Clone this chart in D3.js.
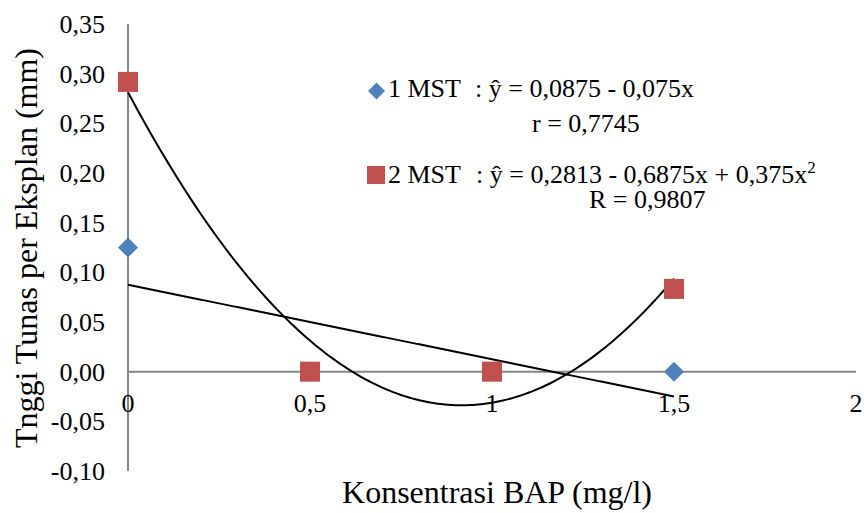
<!DOCTYPE html>
<html><head><meta charset="utf-8">
<script src="https://cdn.jsdelivr.net/npm/d3@7"></script>
<style>body{margin:0;background:#fff}svg{display:block}</style>
</head><body><svg id="c" width="864" height="513" font-family="'Liberation Serif', 'Times New Roman', Tinos, 'DejaVu Serif', serif"></svg>
<script>
const xValues = [0, 0.5, 1, 1.5];
const mst1 = [0.125, 0, 0, 0];
const mst2 = [0.2917, 0, 0, 0.0833];
const seriesNames = ["1 MST", "2 MST"];
const yTicks = [-0.10, -0.05, 0, 0.05, 0.10, 0.15, 0.20, 0.25, 0.30, 0.35];
const xTicks = [0, 0.5, 1, 1.5, 2];
const eq1 = [": ŷ = 0,0875 - 0,075x", "r = 0,7745"];
const eq2 = [": ŷ = 0,2813 - 0,6875x + 0,375x", "R = 0,9807"];
const colors = ["#4F81BD", "#C0504D"];

const FS = 26, TFS = 32;
const svg = d3.select("#c");
const x = d3.scaleLinear().domain([0, 2]).range([128, 856]);
const y = d3.scaleLinear().domain([-0.10, 0.35]).range([471, 24]);
const fmt = v => d3.format(".2f")(v).replace(".", ",").replace("−", "-");
const fmtX = v => String(v).replace(".", ",");

function polyfit(xs, ys, deg) {
  const n = deg + 1;
  const A = Array.from({length: n}, () => Array(n + 1).fill(0));
  for (let i = 0; i < xs.length; i++) {
    for (let r = 0; r < n; r++) {
      for (let c = 0; c < n; c++) A[r][c] += Math.pow(xs[i], r + c);
      A[r][n] += ys[i] * Math.pow(xs[i], r);
    }
  }
  for (let i = 0; i < n; i++) {
    let p = i;
    for (let k = i + 1; k < n; k++) if (Math.abs(A[k][i]) > Math.abs(A[p][i])) p = k;
    [A[i], A[p]] = [A[p], A[i]];
    for (let k = 0; k < n; k++) if (k !== i) {
      const f = A[k][i] / A[i][i];
      for (let j = i; j <= n; j++) A[k][j] -= f * A[i][j];
    }
  }
  return A.map((row, i) => row[n] / row[i]);
}
const evalPoly = (c, t) => c.reduce((s, ci, i) => s + ci * Math.pow(t, i), 0);

const axisColor = "#868686";
svg.append("line").attr("x1", x(0)).attr("x2", x(0)).attr("y1", y(0.35)).attr("y2", y(-0.10))
  .attr("stroke", axisColor).attr("stroke-width", 2);
svg.append("line").attr("x1", x(0)).attr("x2", x(2)).attr("y1", y(0)).attr("y2", y(0))
  .attr("stroke", axisColor).attr("stroke-width", 2);

svg.append("g").selectAll("text").data(yTicks).join("text")
  .attr("x", 105).attr("y", d => y(d)).attr("dy", "0.34em")
  .attr("text-anchor", "end").attr("font-size", FS).text(fmt);
svg.append("g").selectAll("text").data(xTicks).join("text")
  .attr("x", d => x(d)).attr("y", 412)
  .attr("text-anchor", "middle").attr("font-size", FS).text(fmtX);

svg.append("text").attr("x", 497).attr("y", 503).attr("text-anchor", "middle")
  .attr("font-size", TFS).text("Konsentrasi BAP (mg/l)");
svg.append("text").attr("transform", "translate(37,248) rotate(-90)").attr("text-anchor", "middle")
  .attr("font-size", TFS).text("Tnggi Tunas per Eksplan (mm)");

const c1 = polyfit(xValues, mst1, 1);
const c2 = polyfit(xValues, mst2, 2);
const xs = d3.range(0, 1.5001, 0.01);
const line = d3.line().x(d => x(d[0])).y(d => y(d[1]));
svg.append("path").attr("d", line(xs.map(t => [t, evalPoly(c1, t)])))
  .attr("fill", "none").attr("stroke", "#000").attr("stroke-width", 2);
svg.append("path").attr("d", line(xs.map(t => [t, evalPoly(c2, t)])))
  .attr("fill", "none").attr("stroke", "#000").attr("stroke-width", 2);

const sym1 = d3.symbol().type(d3.symbolDiamond2).size(255);
svg.append("g").selectAll("path").data(xValues.map((t, i) => [t, mst1[i]])).join("path")
  .attr("d", sym1).attr("transform", d => `translate(${x(d[0])},${y(d[1])})`).attr("fill", colors[0]);
svg.append("g").selectAll("rect").data(xValues.map((t, i) => [t, mst2[i]])).join("rect")
  .attr("x", d => x(d[0]) - 10).attr("y", d => y(d[1]) - 10).attr("width", 20).attr("height", 20)
  .attr("fill", colors[1]);

const lg = svg.append("g");
lg.append("path").attr("d", d3.symbol().type(d3.symbolDiamond2).size(184)())
  .attr("transform", "translate(376.5,91)").attr("fill", colors[0]);
lg.append("text").attr("x", 388).attr("y", 97).attr("font-size", FS).text(seriesNames[0]);
lg.append("text").attr("x", 475).attr("y", 97).attr("font-size", FS).text(eq1[0]);
lg.append("text").attr("x", 532).attr("y", 132).attr("font-size", FS).text(eq1[1]);
lg.append("rect").attr("x", 367).attr("y", 166).attr("width", 18).attr("height", 18).attr("fill", colors[1]);
lg.append("text").attr("x", 388).attr("y", 183).attr("font-size", FS).text(seriesNames[1]);
const t2 = lg.append("text").attr("x", 476).attr("y", 183).attr("font-size", FS).text(eq2[0]);
t2.append("tspan").attr("font-size", 17).attr("dy", -10).text("2");
lg.append("text").attr("x", 589).attr("y", 208).attr("font-size", FS).text(eq2[1]);
</script></body></html>
